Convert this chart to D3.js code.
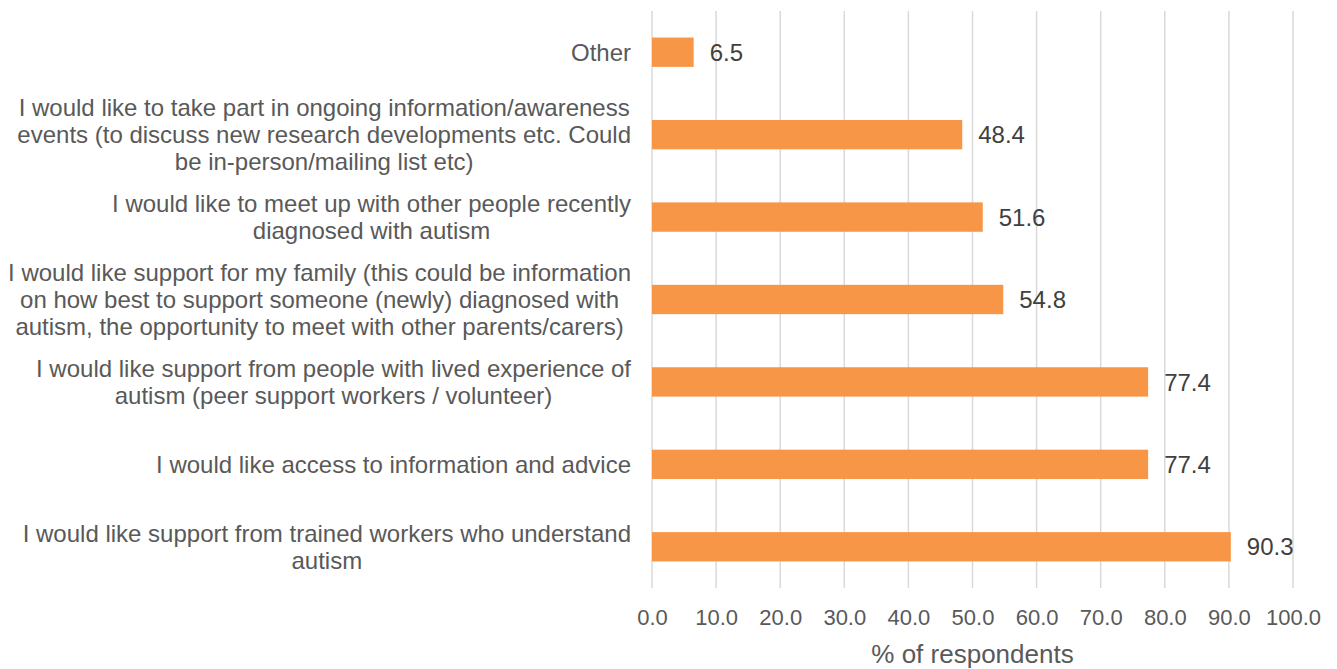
<!DOCTYPE html>
<html>
<head>
<meta charset="utf-8">
<script src="https://cdn.jsdelivr.net/npm/d3@7"></script>
<style>
  html, body { margin: 0; padding: 0; background: #fff; }
  svg { display: block; font-family: "Liberation Sans", Arial, sans-serif; }
</style>
</head>
<body>
<svg id="chart" width="1337" height="669"></svg>
<script>
// Survey responses: support wanted after an autism diagnosis
const categories = [
  "Other",
  "I would like to take part in ongoing information/awareness\nevents (to discuss new research developments etc. Could\nbe in-person/mailing list etc)",
  "I would like to meet up with other people recently\ndiagnosed with autism",
  "I would like support for my family (this could be information\non how best to support someone (newly) diagnosed with\nautism, the opportunity to meet with other parents/carers)",
  "I would like support from people with lived experience of\nautism (peer support workers / volunteer)",
  "I would like access to information and advice",
  "I would like support from trained workers who understand\nautism"
];
const values = [6.5, 48.4, 51.6, 54.8, 77.4, 77.4, 90.3];
const xTicks = [0, 10, 20, 30, 40, 50, 60, 70, 80, 90, 100];
const xTitle = "% of respondents";

const svg = d3.select("#chart");
const margin = { left: 652, right: 44, top: 11, bottom: 81 };
const W = 1337, H = 669;
const plotW = W - margin.left - margin.right;
const plotH = H - margin.top - margin.bottom;

const x = d3.scaleLinear().domain([0, 100]).range([margin.left, margin.left + plotW]);
const y = d3.scaleBand().domain(categories).range([margin.top, margin.top + plotH]).paddingInner(0.644).paddingOuter(0.322);

// vertical gridlines
svg.append("g")
  .selectAll("line")
  .data(xTicks)
  .join("line")
  .attr("x1", d => x(d)).attr("x2", d => x(d))
  .attr("y1", margin.top).attr("y2", margin.top + plotH)
  .attr("stroke", "#d9d9d9").attr("stroke-width", 1.5);

// bars
svg.append("g")
  .selectAll("rect")
  .data(values)
  .join("rect")
  .attr("x", x(0))
  .attr("y", (d, i) => y(categories[i]))
  .attr("width", d => x(d) - x(0))
  .attr("height", y.bandwidth())
  .attr("fill", "#f79646");

// value labels
svg.append("g")
  .selectAll("text")
  .data(values)
  .join("text")
  .attr("x", d => x(d) + 16)
  .attr("y", (d, i) => y(categories[i]) + y.bandwidth() / 2)
  .attr("dy", "0.36em")
  .attr("font-size", 24)
  .attr("fill", "#404040")
  .text(d => d.toFixed(1));

// x axis tick labels
const xAxis = d3.axisBottom(x).tickValues(xTicks).tickFormat(d => d.toFixed(1)).tickSize(0).tickPadding(0);
const gx = svg.append("g").attr("transform", `translate(0, ${margin.top + plotH})`).call(xAxis);
gx.select(".domain").remove();
gx.selectAll("text")
  .attr("y", 37).attr("dy", 0)
  .attr("font-size", 22)
  .attr("font-family", "Liberation Sans, Arial, sans-serif")
  .attr("fill", "#595959");

// axis title
svg.append("text")
  .attr("x", x(50)).attr("y", 663)
  .attr("text-anchor", "middle")
  .attr("font-size", 26)
  .attr("fill", "#595959")
  .text(xTitle);

// category labels: block right-aligned to the axis, lines centred within it
const lineH = 27;
const labelRight = 631;
const gy = svg.append("g");
categories.forEach(cat => {
  const lines = cat.split("\n");
  const cy = y(cat) + y.bandwidth() / 2;
  const t = gy.append("text")
    .attr("font-size", 24)
    .attr("fill", "#595959")
    .attr("text-anchor", "middle");
  const spans = lines.map((ln, i) =>
    t.append("tspan")
      .attr("y", cy + (i - (lines.length - 1) / 2) * lineH)
      .attr("dy", "0.36em")
      .text(ln));
  const maxW = d3.max(spans, s => s.node().getComputedTextLength());
  spans.forEach(s => s.attr("x", labelRight - maxW / 2));
});
</script>
</body>
</html>
